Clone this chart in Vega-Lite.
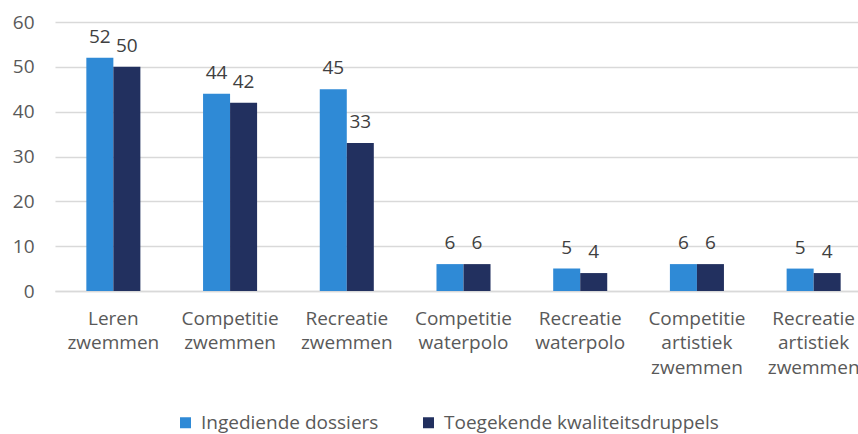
{
  "$schema": "https://vega.github.io/schema/vega-lite/v6.json",
  "autosize": {"type": "none"},
  "width": 817,
  "height": 269,
  "padding": {"left": 55, "top": 22, "right": 0, "bottom": 143},
  "background": "white",
  "config": {
    "view": {"stroke": null},
    "font": "Open Sans",
    "axis": {"labelFont": "Open Sans", "labelColor": "#595959", "labelFontSize": 19}
  },
  "data": {
    "values": [
      {"cat": "Leren zwemmen", "series": "Ingediende dossiers", "value": 52},
      {"cat": "Leren zwemmen", "series": "Toegekende kwaliteitsdruppels", "value": 50},
      {"cat": "Competitie zwemmen", "series": "Ingediende dossiers", "value": 44},
      {"cat": "Competitie zwemmen", "series": "Toegekende kwaliteitsdruppels", "value": 42},
      {"cat": "Recreatie zwemmen", "series": "Ingediende dossiers", "value": 45},
      {"cat": "Recreatie zwemmen", "series": "Toegekende kwaliteitsdruppels", "value": 33},
      {"cat": "Competitie waterpolo", "series": "Ingediende dossiers", "value": 6},
      {"cat": "Competitie waterpolo", "series": "Toegekende kwaliteitsdruppels", "value": 6},
      {"cat": "Recreatie waterpolo", "series": "Ingediende dossiers", "value": 5},
      {"cat": "Recreatie waterpolo", "series": "Toegekende kwaliteitsdruppels", "value": 4},
      {"cat": "Competitie artistiek zwemmen", "series": "Ingediende dossiers", "value": 6},
      {"cat": "Competitie artistiek zwemmen", "series": "Toegekende kwaliteitsdruppels", "value": 6},
      {"cat": "Recreatie artistiek zwemmen", "series": "Ingediende dossiers", "value": 5},
      {"cat": "Recreatie artistiek zwemmen", "series": "Toegekende kwaliteitsdruppels", "value": 4}
    ]
  },
  "encoding": {
    "x": {
      "field": "cat", "type": "nominal", "sort": null,
      "scale": {"paddingInner": 0.537, "paddingOuter": 0.2685},
      "axis": {
        "title": null, "labelAngle": 0, "ticks": false, "domain": true,
        "domainColor": "#D9D9D9", "domainWidth": 1.5,
        "labelExpr": "split(datum.label, ' ')", "labelLineHeight": 24.5,
        "labelPadding": 18, "labelBaseline": "top", "labelLimit": 300,
        "labelOverlap": false, "labelBound": false, "labelFlush": false
      }
    },
    "xOffset": {"field": "series", "type": "nominal", "sort": null},
    "y": {
      "field": "value", "type": "quantitative",
      "scale": {"domain": [0, 60]},
      "axis": {
        "title": null, "values": [0, 10, 20, 30, 40, 50, 60],
        "ticks": false, "domain": false, "gridColor": "#D9D9D9", "gridWidth": 1.5,
        "labelPadding": 21, "labelOverlap": false, "labelFlush": false
      }
    }
  },
  "layer": [
    {
      "mark": {"type": "bar"},
      "encoding": {
        "color": {
          "field": "series", "type": "nominal", "sort": null,
          "scale": {"range": ["#2F8AD6", "#22305F"]},
          "legend": {
            "title": null, "orient": "none", "direction": "horizontal",
            "legendX": 121, "legendY": 391, "symbolType": "square",
            "symbolSize": 121, "symbolStrokeWidth": 0, "labelFontSize": 19,
            "labelColor": "#595959", "columnPadding": 40, "labelFont": "Open Sans",
            "labelLimit": 400, "labelOffset": 6
          }
        }
      }
    },
    {
      "mark": {"type": "text", "baseline": "bottom", "dy": -11, "fontSize": 19, "color": "#404040", "font": "Open Sans"},
      "encoding": {"text": {"field": "value", "type": "quantitative"}}
    }
  ]
}
